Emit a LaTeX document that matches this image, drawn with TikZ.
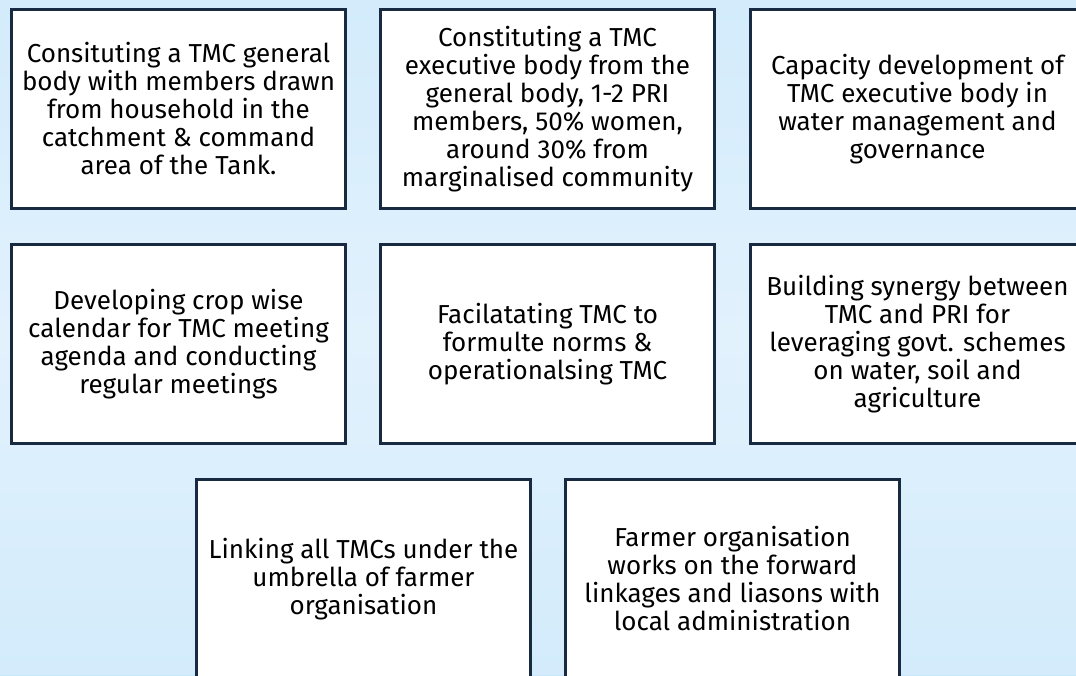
\documentclass[tikz,border=0pt]{standalone}
\usepackage{fontspec}
\setmainfont{Fira Sans}
\definecolor{bgA}{HTML}{E2F2FD}
\definecolor{bgB}{HTML}{C9E7FB}
\definecolor{edge}{HTML}{182A42}
\tikzset{
  card/.style={draw=edge, line width=3pt, fill=white, minimum width=334pt, minimum height=199pt,
    inner sep=0pt, align=center, text=black,
    font=\fontsize{26pt}{28pt}\selectfont}
}
\begin{document}
\begin{tikzpicture}[x=1pt,y=-1pt]
\useasboundingbox (0,0) rectangle (1076,675);
\clip (0,0) rectangle (1076,675);
\shade[top color=bgB, bottom color=bgB, middle color=bgA] (0,0) rectangle (1076,675);
\fill[bgA, opacity=0.4] (0,0) rectangle (1076,675);
\node[card] (b1) at (178.5,109) {Consituting a TMC general\\body with members drawn\\from household in the\\catchment \& command\\area of the Tank.};
\node[card] (b2) at (547.5,109) {Constituting a TMC\\executive body from the\\general body, 1-2 PRI\\members, 50\% women,\\around 30\% from\\marginalised community};
\node[card] (b3) at (917.5,109) {Capacity development of\\TMC executive body in\\water management and\\governance};
\node[card] (b4) at (178.5,344) {Developing crop wise\\calendar for TMC meeting\\agenda and conducting\\regular meetings};
\node[card] (b5) at (547.5,344) {Facilatating TMC to\\formulte norms \&\\operationalsing TMC};
\node[card] (b6) at (917.5,344) {Building synergy between\\TMC and PRI for\\leveraging govt. schemes\\on water, soil and\\agriculture};
\node[card] (b7) at (363.5,579) {Linking all TMCs under the\\umbrella of farmer\\organisation};
\node[card] (b8) at (732.5,579) {Farmer organisation\\works on the forward\\linkages and liasons with\\local administration};
\end{tikzpicture}
\end{document}
